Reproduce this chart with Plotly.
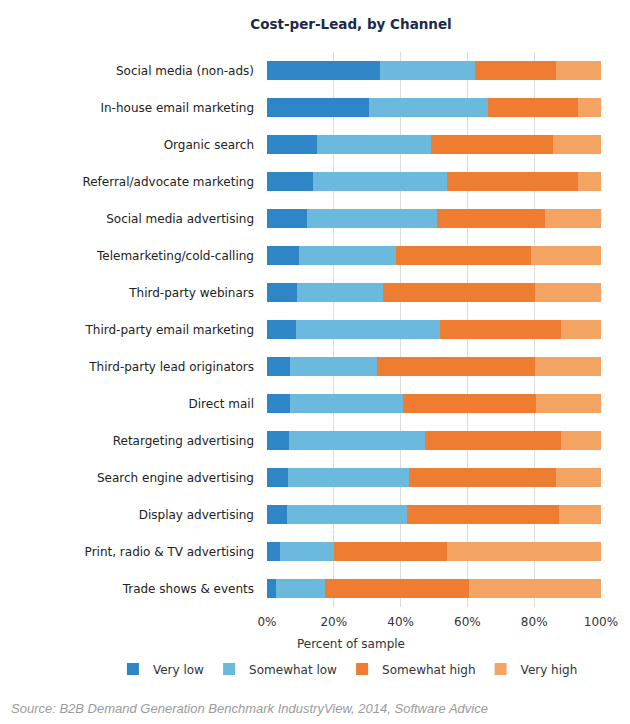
import plotly.graph_objects as go

channels = [
    "Social media (non-ads)",
    "In-house email marketing",
    "Organic search",
    "Referral/advocate marketing",
    "Social media advertising",
    "Telemarketing/cold-calling",
    "Third-party webinars",
    "Third-party email marketing",
    "Third-party lead originators",
    "Direct mail",
    "Retargeting advertising",
    "Search engine advertising",
    "Display advertising",
    "Print, radio & TV advertising",
    "Trade shows & events",
]
very_low = [33.7, 30.5, 15.1, 13.8, 12.1, 9.6, 9.1, 8.6, 7.0, 7.0, 6.7, 6.4, 6.1, 4.0, 2.7]
somewhat_low = [28.6, 35.6, 34.1, 40.1, 38.9, 28.9, 25.6, 43.1, 25.8, 33.8, 40.7, 36.1, 35.8, 16.1, 14.6]
somewhat_high = [24.3, 26.9, 36.5, 39.1, 32.3, 40.6, 45.5, 36.2, 47.4, 39.6, 40.7, 44.1, 45.4, 33.9, 43.3]
very_high = [13.4, 7.0, 14.3, 7.0, 16.7, 20.9, 19.8, 12.1, 19.8, 19.6, 11.9, 13.4, 12.7, 46.0, 39.4]

series = [
    ("Very low", very_low, "#2e86c6"),
    ("Somewhat low", somewhat_low, "#6bb9dc"),
    ("Somewhat high", somewhat_high, "#ef7d31"),
    ("Very high", very_high, "#f3a462"),
]

W, H = 630, 724
L, R, T, B = 267, 27, 52, 117
pw = W - L - R
ph = H - T - B

def px_x(x):
    return (x - L) / pw

def px_y(y):
    return (H - B - y) / ph

fig = go.Figure()
for name, vals, col in series:
    fig.add_trace(go.Bar(
        y=channels, x=vals, name=name, orientation="h",
        marker=dict(color=col, line=dict(width=0)),
    ))

font_main = "DejaVu Sans, Verdana, sans-serif"

fig.update_layout(
    width=W, height=H,
    barmode="stack", bargap=0.46,
    margin=dict(l=L, r=R, t=T, b=B),
    paper_bgcolor="white", plot_bgcolor="white",
    font=dict(family=font_main, size=12, color="#333333"),
    title=dict(
        text="<b>Cost-per-Lead, by Channel</b>",
        font=dict(family=font_main, size=13.5, color="#1c2a48"),
        x=351 / W, xanchor="center", xref="container",
        y=1 - 24 / H, yanchor="middle", yref="container",
    ),
    xaxis=dict(
        range=[0, 100], tickvals=[0, 20, 40, 60, 80, 100],
        ticktext=["0%", "20%", "40%", "60%", "80%", "100%"],
        showgrid=True, gridcolor="#dcdcdc", gridwidth=1,
        zeroline=False, showline=False, ticks="", ticklabelstandoff=6,
        tickfont=dict(size=12, color="#333333"),
    ),
    yaxis=dict(
        autorange="reversed", showgrid=False, zeroline=False,
        showline=False, ticks="", ticklabelstandoff=12,
        tickfont=dict(size=12, color="#222222"),
    ),
    legend=dict(
        orientation="h", x=px_x(112), xanchor="left",
        y=px_y(669), yanchor="middle",
        font=dict(size=12, color="#333333"),
        itemwidth=30, traceorder="normal",
        bgcolor="rgba(0,0,0,0)",
    ),
    annotations=[
        dict(text="Percent of sample", xref="paper", yref="paper",
             x=px_x(351), y=px_y(644), xanchor="center", yanchor="middle",
             showarrow=False, font=dict(size=12, color="#333333")),
        dict(text="<i>Source: B2B Demand Generation Benchmark IndustryView, 2014, Software Advice</i>",
             xref="paper", yref="paper", x=px_x(7), y=px_y(708),
             xanchor="left", yanchor="middle", showarrow=False,
             font=dict(family="Liberation Sans, Arial, sans-serif", size=13, color="#9a9a9a")),
    ],
)

fig.write_html("out.html", config={"displayModeBar": False},
               post_script="document.body.style.margin='0';")
